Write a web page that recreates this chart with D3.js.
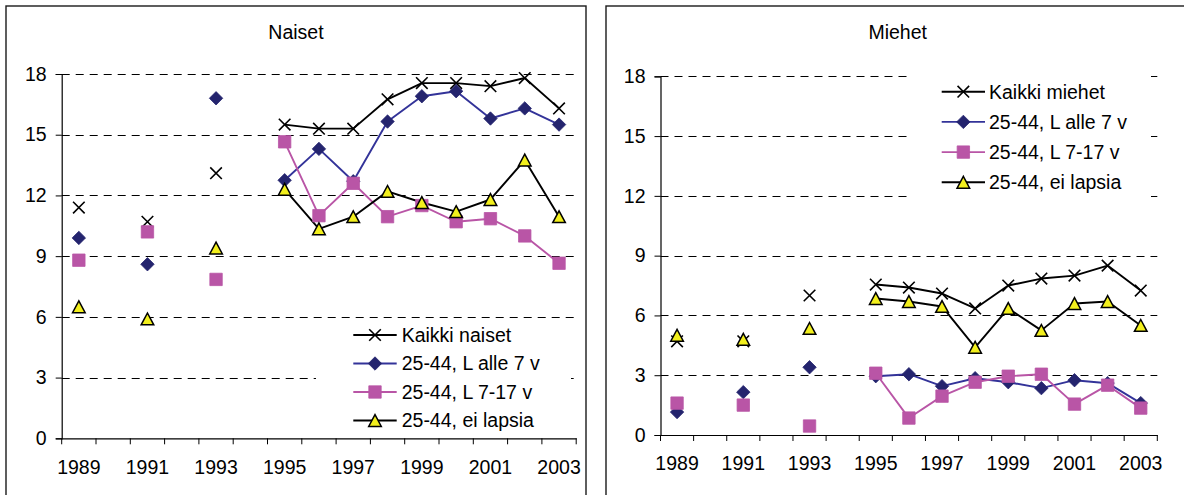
<!DOCTYPE html>
<html>
<head>
<meta charset="utf-8">
<script src="https://cdn.jsdelivr.net/npm/d3@7"></script>
<style>
  html, body { margin: 0; padding: 0; background: #fff; }
  svg { display: block; }
  text { font-family: "Liberation Sans", Arial, sans-serif; fill: #000; }
</style>
</head>
<body>
<svg id="chart" width="1184" height="495"></svg>
<script>
// ---------- data ----------
const years = ["1989","1990","1991","1992","1993","1994","1995","1996","1997","1998","1999","2000","2001","2002","2003"];
const xTickLabels = ["1989","1991","1993","1995","1997","1999","2001","2003"];
const yTicks = [0, 3, 6, 9, 12, 15, 18];

const seriesNamesNaiset = ["Kaikki naiset", "25-44, L alle 7 v", "25-44, L 7-17 v", "25-44, ei lapsia"];
const seriesNamesMiehet = ["Kaikki miehet", "25-44, L alle 7 v", "25-44, L 7-17 v", "25-44, ei lapsia"];

const naisetKaikki   = [11.4, null, 10.7, null, 13.1, null, 15.5, 15.3, 15.3, 16.75, 17.55, 17.55, 17.4, 17.8, 16.3];
const naisetAlle7    = [9.9, null, 8.6, null, 16.8, null, 12.75, 14.3, 12.7, 15.65, 16.9, 17.15, 15.8, 16.3, 15.5];
const naiset7_17     = [8.8, null, 10.2, null, 7.85, null, 14.65, 11.0, 12.6, 10.95, 11.5, 10.7, 10.85, 10.0, 8.65];
const naisetEiLapsia = [6.5, null, 5.9, null, 9.4, null, 12.3, 10.35, 10.95, 12.2, 11.65, 11.2, 11.8, 13.75, 10.95];

const miehetKaikki   = [4.7, null, 4.7, null, 7.0, null, 7.55, 7.4, 7.1, 6.35, 7.5, 7.85, 8.0, 8.5, 7.25];
const miehetAlle7    = [1.15, null, 2.15, null, 3.4, null, 2.95, 3.05, 2.45, 2.85, 2.65, 2.35, 2.75, 2.6, 1.6];
const miehet7_17     = [1.6, null, 1.5, null, 0.45, null, 3.1, 0.85, 1.95, 2.65, 2.95, 3.05, 1.55, 2.5, 1.35];
const miehetEiLapsia = [5.0, null, 4.8, null, 5.35, null, 6.85, 6.7, 6.45, 4.4, 6.35, 5.25, 6.6, 6.7, 5.5];

// ---------- styles ----------
const FONT = 19.5;
const LINE_W = 1.9;
const styles = [
  { marker: "x",        line: "#000000", fill: "none",    stroke: "#000000" },
  { marker: "diamond",  line: "#333399", fill: "#24246e", stroke: "#24246e" },
  { marker: "square",   line: "#b955a6", fill: "#b955a6", stroke: "#b955a6" },
  { marker: "triangle", line: "#000000", fill: "#f2ef1d", stroke: "#000000" }
];

function markerPath(kind) {
  const p = d3.path();
  if (kind === "x") {
    const r = 5.8;
    p.moveTo(-r, -r); p.lineTo(r, r); p.moveTo(r, -r); p.lineTo(-r, r);
  } else if (kind === "diamond") {
    const r = 6.7;
    p.moveTo(0, -r); p.lineTo(r, 0); p.lineTo(0, r); p.lineTo(-r, 0); p.closePath();
  } else if (kind === "square") {
    const r = 6.2;
    p.rect(-r, -r, 2 * r, 2 * r);
  } else {
    const w = 6.3, h = 5.9;
    p.moveTo(0, -h); p.lineTo(w, h); p.lineTo(-w, h); p.closePath();
  }
  return p.toString();
}
const markerStroke = k => k === "x" ? 1.6 : (k === "triangle" ? 1.5 : 0.8);

const svg = d3.select("#chart");

function drawPanel(cfg) {
  const g = svg.append("g");

  // frame
  g.append("rect")
    .attr("x", cfg.frame[0]).attr("y", cfg.frame[1])
    .attr("width", cfg.frame[2]).attr("height", cfg.frame[3])
    .attr("fill", "#fff").attr("stroke", "#1a1a1a").attr("stroke-width", 1.4);

  const x = d3.scaleBand().domain(years).range([cfg.x0, cfg.x1]);
  const y = d3.scaleLinear().domain([0, 18]).range([cfg.yZero, cfg.yTop]);

  // title
  g.append("text").attr("x", cfg.titleX).attr("y", 38.5)
    .attr("text-anchor", "middle").style("font-size", FONT + "px").text(cfg.title);

  // gridlines
  g.append("g").selectAll("line").data(yTicks.filter(v => v > 0)).join("line")
    .attr("x1", cfg.x0).attr("x2", cfg.x1)
    .attr("y1", d => Math.round(y(d)) + 0.5).attr("y2", d => Math.round(y(d)) + 0.5)
    .attr("stroke", "#000").attr("stroke-width", 1)
    .attr("stroke-dasharray", "8,6");

  // y axis
  const yAxis = g.append("g").attr("transform", `translate(${cfg.x0},0)`)
    .call(d3.axisLeft(y).tickValues(yTicks).tickSize(6).tickPadding(9).tickFormat(d3.format("d")));
  yAxis.select(".domain").attr("stroke", "#000").attr("stroke-width", 1.2);
  yAxis.selectAll(".tick line").attr("stroke", "#000");
  yAxis.selectAll(".tick text").style("font-size", FONT + "px")
    .style("font-family", "'Liberation Sans', Arial, sans-serif").attr("fill", "#000");

  // x axis (line + labels via d3 axis, boundary ticks from the band scale)
  const xAxis = g.append("g").attr("transform", `translate(0,${cfg.yZero})`)
    .call(d3.axisBottom(x).tickValues(xTickLabels).tickSize(0).tickPadding(cfg.xLabelPad).tickSizeOuter(0));
  xAxis.select(".domain").attr("stroke", "#000").attr("stroke-width", 1.2);
  xAxis.selectAll(".tick text").style("font-size", FONT + "px")
    .style("font-family", "'Liberation Sans', Arial, sans-serif").attr("fill", "#000");
  const bounds = years.map(d => x(d)).concat([x(years[years.length - 1]) + x.bandwidth()]);
  xAxis.append("g").selectAll("line").data(bounds).join("line")
    .attr("x1", d => d).attr("x2", d => d).attr("y1", 0).attr("y2", 6)
    .attr("stroke", "#000").attr("stroke-width", 1);

  // legend background (covers gridlines like Excel legend)
  const L = cfg.legend;
  g.append("rect").attr("x", L.box[0]).attr("y", L.box[1])
    .attr("width", L.box[2]).attr("height", L.box[3]).attr("fill", "#fff");

  // series
  const cx = i => x(years[i]) + x.bandwidth() / 2;
  cfg.series.forEach((vals, si) => {
    const st = styles[si];
    const line = d3.line()
      .defined((d, i) => d != null && i >= 6)
      .x((d, i) => cx(i)).y(d => y(d));
    g.append("path").datum(vals).attr("d", line)
      .attr("fill", "none").attr("stroke", st.line).attr("stroke-width", LINE_W)
      .attr("stroke-linejoin", "round");
  });
  cfg.series.forEach((vals, si) => {
    const st = styles[si];
    const pts = vals.map((v, i) => ({ v, i })).filter(d => d.v != null);
    g.append("g").selectAll("path").data(pts).join("path")
      .attr("transform", d => `translate(${cx(d.i)},${y(d.v)})`)
      .attr("d", markerPath(st.marker))
      .attr("fill", st.fill).attr("stroke", st.stroke)
      .attr("stroke-width", markerStroke(st.marker))
      .attr("stroke-linejoin", "miter");
  });

  // legend entries
  cfg.names.forEach((name, si) => {
    const st = styles[si];
    const ry = L.rows[si];
    const lg = g.append("g");
    lg.append("line").attr("x1", L.lx1).attr("x2", L.lx2).attr("y1", ry).attr("y2", ry)
      .attr("stroke", st.line).attr("stroke-width", LINE_W);
    lg.append("path").attr("transform", `translate(${(L.lx1 + L.lx2) / 2},${ry})`)
      .attr("d", markerPath(st.marker))
      .attr("fill", st.fill).attr("stroke", st.stroke)
      .attr("stroke-width", markerStroke(st.marker));
    lg.append("text").attr("x", L.tx).attr("y", ry).attr("dy", "0.35em")
      .style("font-size", FONT + "px").text(name);
  });
}

drawPanel({
  title: "Naiset", titleX: 296,
  frame: [6, 6, 580, 520],
  x0: 61.7, x1: 576.2, yZero: 438.3, yTop: 74, xLabelPad: 22,
  series: [naisetKaikki, naisetAlle7, naiset7_17, naisetEiLapsia],
  names: seriesNamesNaiset,
  legend: { box: [316, 321, 255, 112], rows: [335, 363.5, 392, 420.5], lx1: 353.3, lx2: 396.7, tx: 401.7 }
});

drawPanel({
  title: "Miehet", titleX: 897.7,
  frame: [606, 6, 600, 520],
  x0: 660.5, x1: 1157.3, yZero: 435, yTop: 76.3, xLabelPad: 21,
  series: [miehetKaikki, miehetAlle7, miehet7_17, miehetEiLapsia],
  names: seriesNamesMiehet,
  legend: { box: [911, 66, 240, 134], rows: [91.7, 121.9, 152.1, 182.3], lx1: 941.7, lx2: 985, tx: 989 }
});
</script>
</body>
</html>
